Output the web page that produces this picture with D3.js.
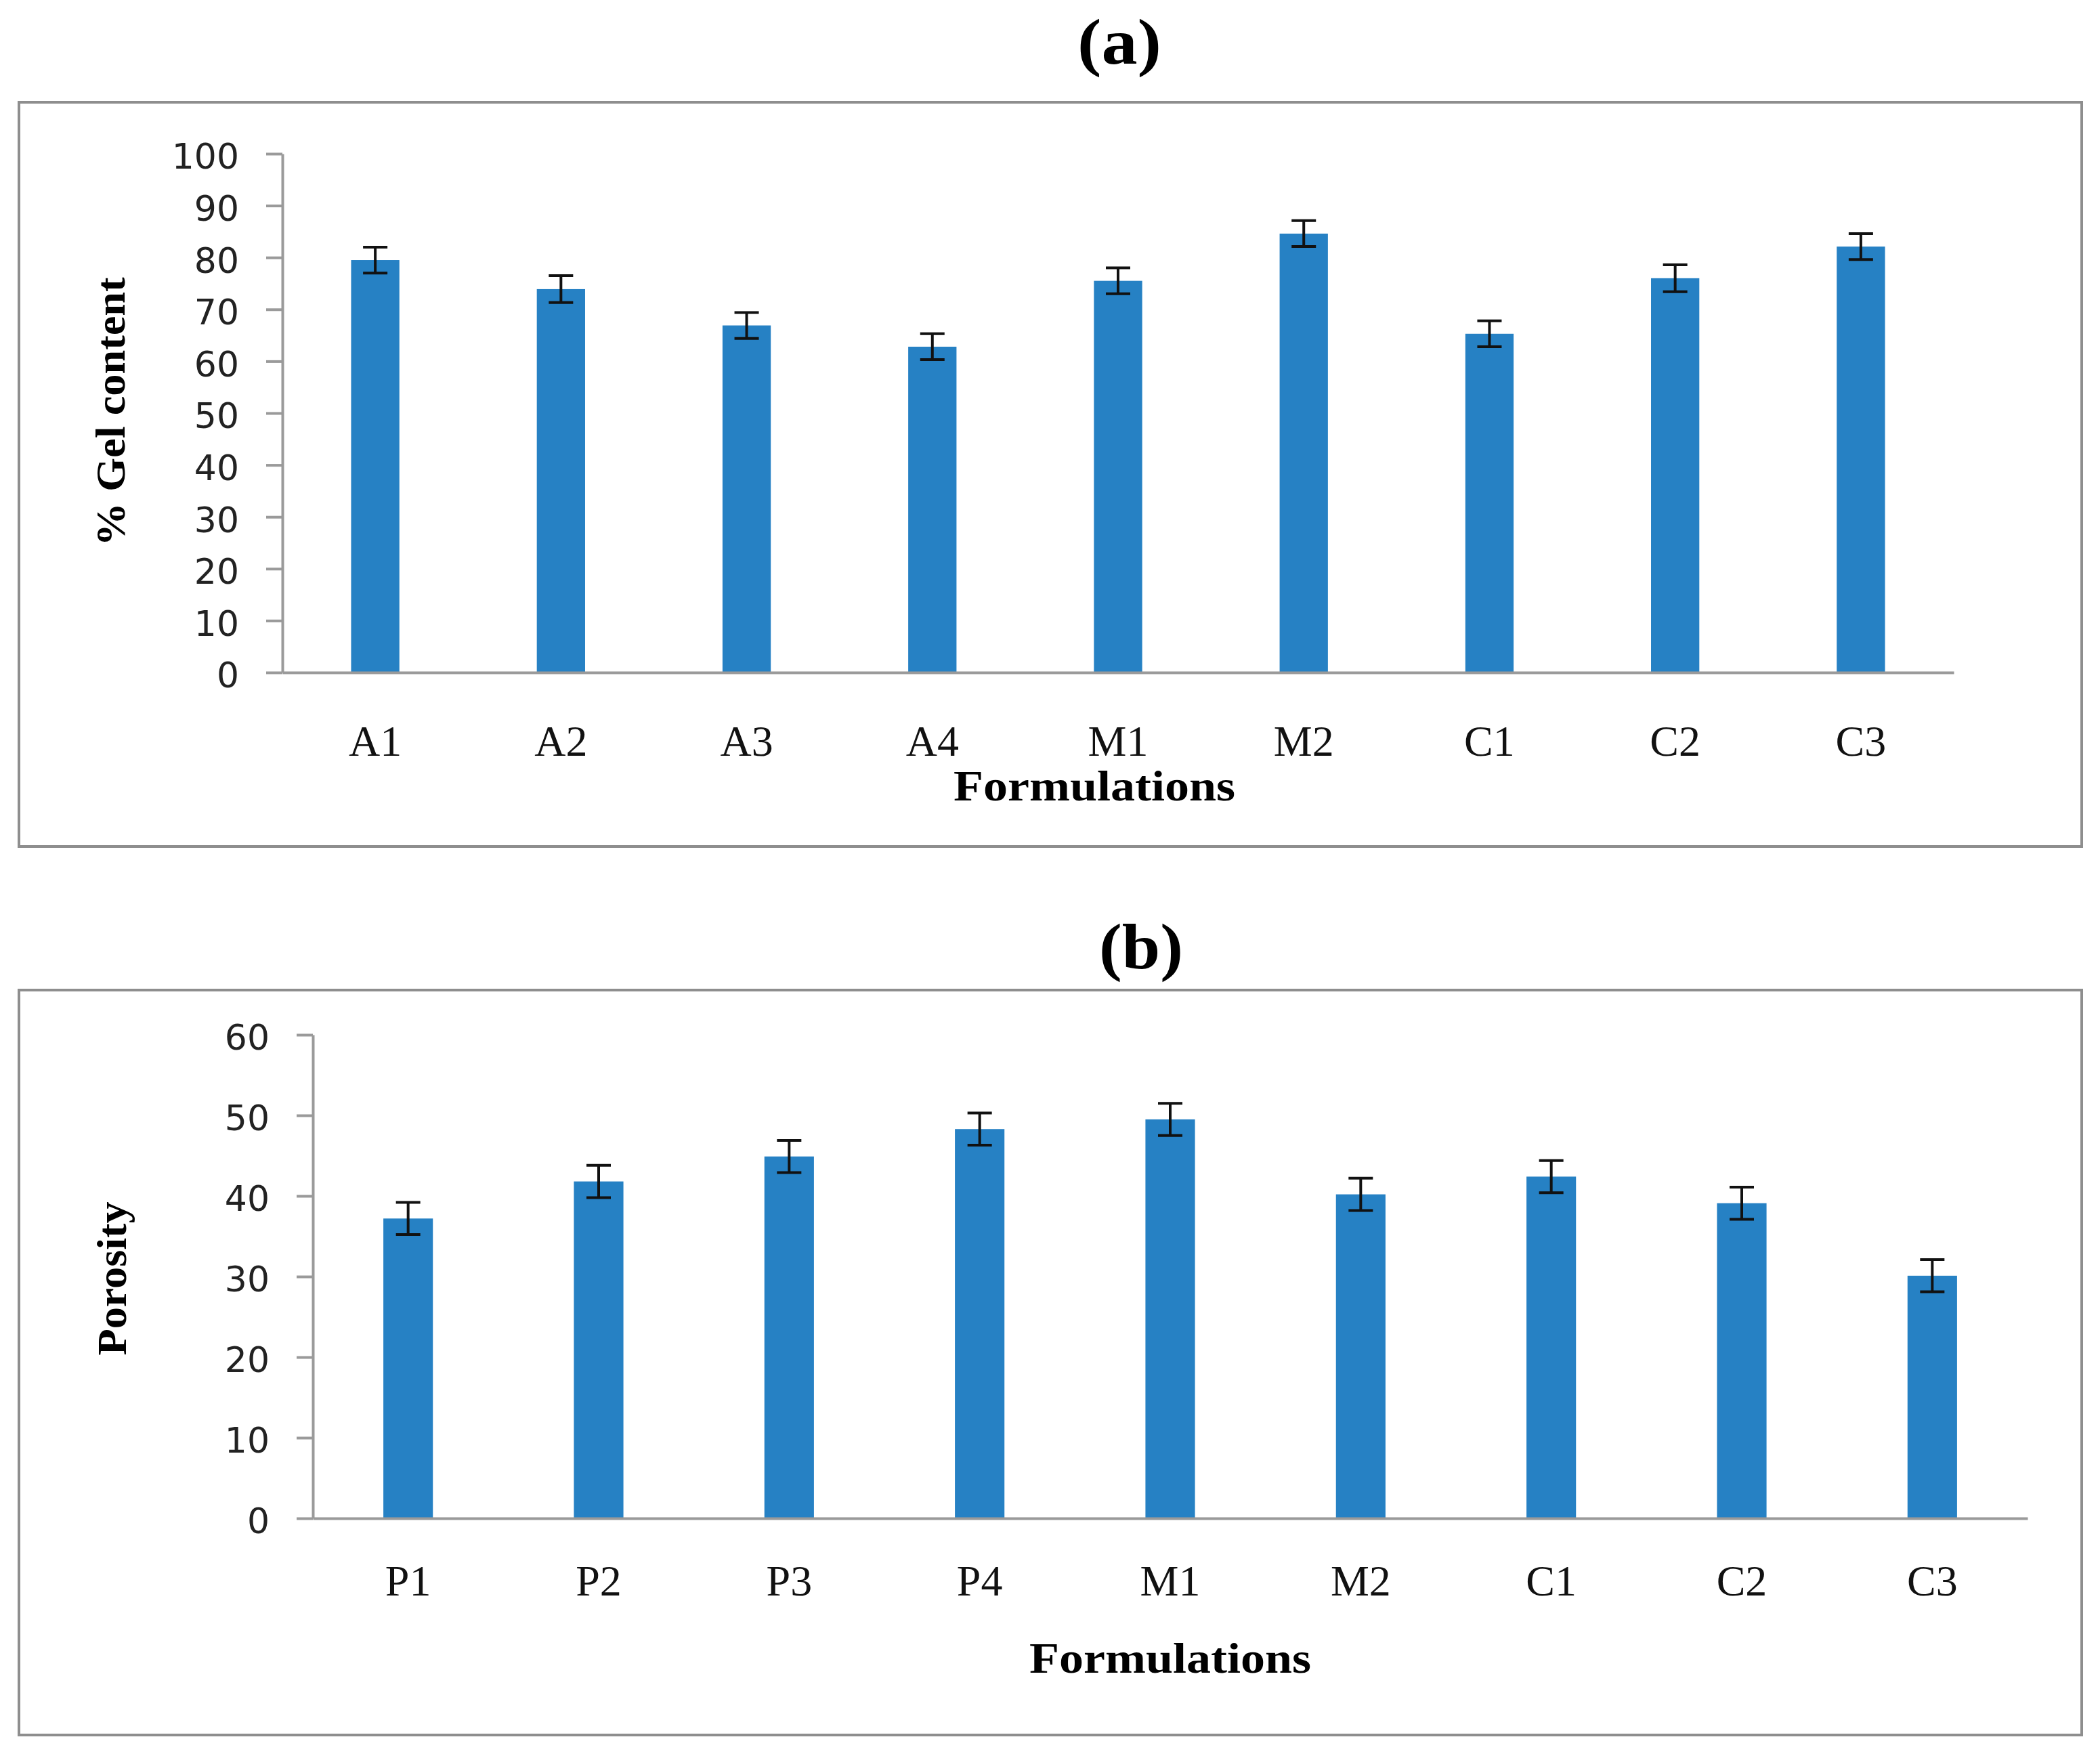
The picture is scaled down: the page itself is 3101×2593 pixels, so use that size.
<!DOCTYPE html>
<html>
<head>
<meta charset="utf-8">
<script src="https://cdn.jsdelivr.net/npm/d3@7"></script>
<style>
  html, body { margin: 0; padding: 0; background: #fff; }
  svg { display: block; }
</style>
</head>
<body>
<div id="vis"></div>
<script>
/* Panel (a): gel content */
const gelCategories = ["A1", "A2", "A3", "A4", "M1", "M2", "C1", "C2", "C3"];
const gelValues     = [79.5, 73.9, 66.9, 62.8, 75.5, 84.6, 65.3, 76.0, 82.1];
const gelErrors     = [2.5, 2.6, 2.5, 2.5, 2.5, 2.5, 2.5, 2.6, 2.5];
const gelTicks      = [0, 10, 20, 30, 40, 50, 60, 70, 80, 90, 100];

/* Panel (b): porosity */
const porCategories = ["P1", "P2", "P3", "P4", "M1", "M2", "C1", "C2", "C3"];
const porValues     = [37.2, 41.8, 44.9, 48.3, 49.5, 40.2, 42.4, 39.1, 30.1];
const porErrors     = [2.0, 2.0, 2.0, 2.0, 2.0, 2.0, 2.0, 2.0, 2.0];
const porTicks      = [0, 10, 20, 30, 40, 50, 60];

const W = 3101, H = 2593;
const barColour = "#2681c4";
const axisColour = "#9a9a9a";
const serif = "'Liberation Serif', 'Times New Roman', serif";
const sans  = "'DejaVu Sans', Verdana, sans-serif";

const svg = d3.select("#vis").append("svg")
    .attr("width", W).attr("height", H)
    .attr("viewBox", [0, 0, W, H]);

svg.append("rect").attr("width", W).attr("height", H).attr("fill", "#fff");

function drawPanel(p){
  // frame
  svg.append("rect")
      .attr("x", p.box[0]).attr("y", p.box[1])
      .attr("width", p.box[2]).attr("height", p.box[3])
      .attr("fill", "none").attr("stroke", "#8e8e8e").attr("stroke-width", 4);

  // panel letter
  svg.append("text")
      .attr("x", p.title[0]).attr("y", p.title[1])
      .attr("text-anchor", "middle")
      .attr("font-family", serif).attr("font-weight", "bold")
      .attr("font-size", 96)
      .attr("textLength", 124).attr("lengthAdjust", "spacingAndGlyphs")
      .text(p.label);

  const x = d3.scaleBand().domain(p.cats).range(p.xr).paddingInner(0.74).paddingOuter(0.37);
  const y = d3.scaleLinear().domain([0, d3.max(p.ticks)]).range(p.yr);

  const g = svg.append("g");

  // bars
  g.selectAll("rect.bar").data(p.cats).join("rect")
      .attr("class", "bar")
      .attr("x", d => x(d)).attr("width", x.bandwidth())
      .attr("y", (d, i) => y(p.vals[i]))
      .attr("height", (d, i) => y(0) - y(p.vals[i]))
      .attr("fill", barColour);

  // error bars
  const cap = 18;
  const eb = g.selectAll("g.err").data(p.cats).join("g").attr("class", "err")
      .attr("stroke", "#111").attr("stroke-width", 4);
  eb.append("line")
      .attr("x1", d => x(d) + x.bandwidth() / 2).attr("x2", d => x(d) + x.bandwidth() / 2)
      .attr("y1", (d, i) => y(p.vals[i] + p.errs[i])).attr("y2", (d, i) => y(p.vals[i] - p.errs[i]));
  eb.append("line")
      .attr("x1", d => x(d) + x.bandwidth() / 2 - cap).attr("x2", d => x(d) + x.bandwidth() / 2 + cap)
      .attr("y1", (d, i) => y(p.vals[i] + p.errs[i])).attr("y2", (d, i) => y(p.vals[i] + p.errs[i]));
  eb.append("line")
      .attr("x1", d => x(d) + x.bandwidth() / 2 - cap).attr("x2", d => x(d) + x.bandwidth() / 2 + cap)
      .attr("y1", (d, i) => y(p.vals[i] - p.errs[i])).attr("y2", (d, i) => y(p.vals[i] - p.errs[i]));

  // y axis
  const ya = g.append("g")
      .attr("transform", `translate(${p.xr[0]},0)`)
      .call(d3.axisLeft(y).tickValues(p.ticks).tickSize(24).tickSizeOuter(0).tickPadding(40));
  ya.selectAll("path, line").attr("stroke", axisColour).attr("stroke-width", 4);
  ya.selectAll("text")
      .attr("font-family", sans).attr("font-size", 52).attr("fill", "#222")
      .attr("dy", "0.42em");

  // x axis
  const xa = g.append("g")
      .attr("transform", `translate(0,${y(0)})`)
      .call(d3.axisBottom(x).tickSize(0).tickPadding(p.xPad));
  xa.select("path").attr("stroke", axisColour).attr("stroke-width", 4);
  xa.selectAll("text")
      .attr("font-family", serif).attr("font-size", 64).attr("fill", "#111");

  // axis titles
  svg.append("text")
      .attr("x", p.xTitle[0]).attr("y", p.xTitle[1])
      .attr("text-anchor", "middle")
      .attr("font-family", serif).attr("font-weight", "bold").attr("font-size", 64)
      .attr("textLength", 416).attr("lengthAdjust", "spacingAndGlyphs")
      .text("Formulations");

  svg.append("text")
      .attr("transform", `translate(${p.yTitle[0]},${p.yTitle[1]}) rotate(-90)`)
      .attr("text-anchor", "middle")
      .attr("font-family", serif).attr("font-weight", "bold").attr("font-size", 62)
      .attr("textLength", p.yTitleLen).attr("lengthAdjust", "spacingAndGlyphs")
      .text(p.yLabel);
}

drawPanel({
  label: "(a)", title: [1653, 94],
  box: [28, 151, 3046, 1099],
  cats: gelCategories, vals: gelValues, errs: gelErrors, ticks: gelTicks,
  xr: [417, 2885], yr: [993, 227], xPad: 78,
  xTitle: [1616, 1182],
  yLabel: "% Gel content", yTitle: [184, 608], yTitleLen: 397
});

drawPanel({
  label: "(b)", title: [1685, 1430],
  box: [28, 1462, 3046, 1100],
  cats: porCategories, vals: porValues, errs: porErrors, ticks: porTicks,
  xr: [462, 2994], yr: [2242, 1528], xPad: 69,
  xTitle: [1728, 2470],
  yLabel: "Porosity", yTitle: [186, 1888], yTitleLen: 227
});
</script>
</body>
</html>
